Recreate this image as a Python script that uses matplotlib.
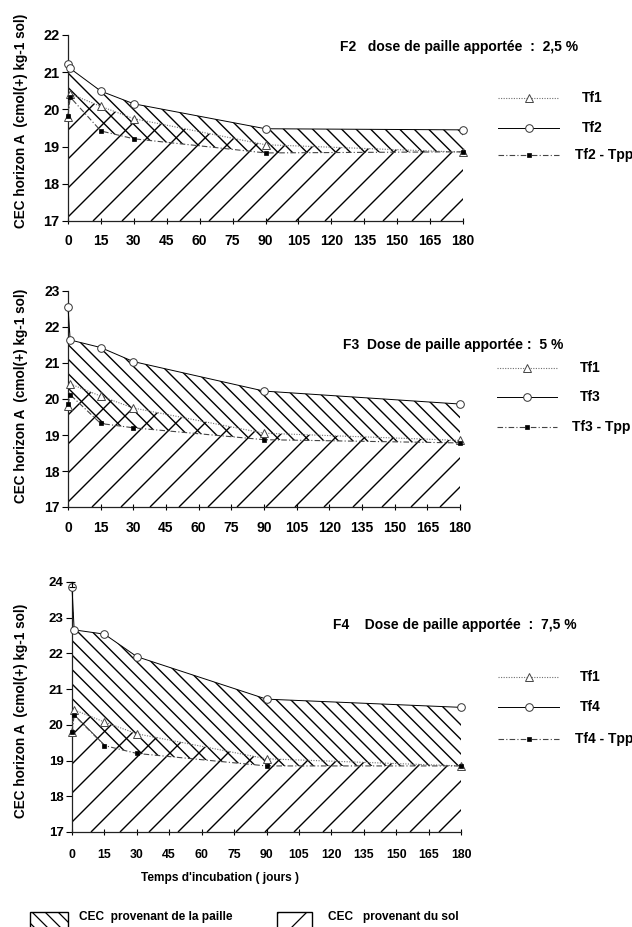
import numpy as np
import matplotlib
matplotlib.use("Agg")
import matplotlib.pyplot as plt
from matplotlib.collections import LineCollection
from matplotlib.lines import Line2D
from matplotlib.patches import Rectangle
from matplotlib.transforms import IdentityTransform

plt.rcParams["font.family"] = ["Liberation Sans", "DejaVu Sans"]
plt.rcParams["font.weight"] = "bold"

# Incubation days
days = [0, 1, 15, 30, 90, 180]
day_ticks = [0, 15, 30, 45, 60, 75, 90, 105, 120, 135, 150, 165, 180]

# Control soil (no straw)
tf1 = [19.80, 20.42, 20.08, 19.75, 19.05, 18.85]

# F2 : 2,5 % straw
tf2 = [21.22, 21.10, 20.49, 20.15, 19.48, 19.45]
tf2_tpp = [19.83, 20.33, 19.42, 19.21, 18.83, 18.86]

# F3 : 5 % straw
tf3 = [22.55, 21.64, 21.43, 21.04, 20.22, 19.86]
tf3_tpp = [19.85, 20.12, 19.32, 19.20, 18.87, 18.78]

# F4 : 7,5 % straw
tf4 = [23.85, 22.66, 22.54, 21.91, 20.72, 20.49]
tf4_tpp = [19.80, 20.27, 19.42, 19.20, 18.85, 18.85]
tf4_day0_err = 0.15

W, H = 632, 927
fig = plt.figure(figsize=(W / 100, H / 100), dpi=100)
fig.patch.set_facecolor("white")


def fx(px):
    return px / W


def fy(py):
    return 1 - py / H


def add_axes_px(left, right, top, bottom):
    return fig.add_axes([fx(left), fy(bottom), fx(right - left), (bottom - top) / H])


def hatch_lines(bb, sign, spacing, phase=0.0):
    """Diagonal segments (display pixels) covering the bbox."""
    segs = []
    w, h = bb.width, bb.height
    for c in np.arange(-h - spacing + phase, w + spacing, spacing):
        if sign > 0:
            segs.append([(bb.x0 + c, bb.y0), (bb.x0 + c + h, bb.y1)])
        else:
            segs.append([(bb.x0 + c, bb.y1), (bb.x0 + c + h, bb.y0)])
    return segs


def hatched_band(ax, x, lo, hi, sign, spacing, phase=0.0, lw=1.0):
    band = ax.fill_between(x, lo, hi, facecolor="none", edgecolor="none", lw=0)
    lc = LineCollection(hatch_lines(ax.bbox, sign, spacing, phase), colors="black",
                        linewidths=lw, transform=IdentityTransform(), zorder=1)
    ax.add_collection(lc, autolim=False)
    lc.set_clip_path(band.get_paths()[0], ax.transData)


STYLE_TF1 = dict(color="#6f6f6f", ls=(0, (1, 1.3)), lw=0.8, marker="^", ms=5.5,
                 mfc="white", mec="#444444", mew=0.7)
STYLE_TF = dict(color="black", ls="-", lw=0.7, marker="o", ms=5.5,
                mfc="white", mec="#333333", mew=0.7)
STYLE_TPP = dict(color="#444444", ls=(0, (5, 2, 1, 2)), lw=0.8, marker="s", ms=2.2,
                 mfc="black", mec="black", mew=0.5)


def panel(box, ymax, tf, tpp, name, title, title_xy, leg, ylab_y, tick_fs, ytick_fs, xpad):
    ax = add_axes_px(*box)
    ax.set_xlim(0, 180)
    ax.set_ylim(17, ymax)
    for s in ("top", "right"):
        ax.spines[s].set_visible(False)
    for s in ("left", "bottom"):
        ax.spines[s].set_linewidth(0.9)
        ax.spines[s].set_color("#222222")
    ax.set_xticks(day_ticks)
    ax.set_yticks(np.arange(17, ymax + 1))
    ax.tick_params(axis="x", direction="inout", length=5, width=0.8, pad=xpad,
                   labelsize=tick_fs)
    ax.tick_params(axis="y", direction="out", length=4, width=0.8, pad=2,
                   labelsize=ytick_fs)
    for lab in ax.get_xticklabels() + ax.get_yticklabels():
        lab.set_fontweight("bold")

    # straw contribution: between treated soil and treated soil minus straw
    hatched_band(ax, days, tpp, tf, -1, 14.5, phase=3)
    # soil contribution: below the control curve
    hatched_band(ax, days, [17] * len(days), tf1, +1, 29, phase=8)

    ax.plot(days, tf1, clip_on=False, zorder=4, **STYLE_TF1)
    ax.plot(days, tpp, clip_on=False, zorder=5, **STYLE_TPP)
    ax.plot(days, tf, clip_on=False, zorder=6, **STYLE_TF)

    fig.text(fx(title_xy[0]), fy(title_xy[1]), title, fontsize=10, fontweight="bold",
             ha="left", va="center")
    fig.text(fx(21), fy(ylab_y), "CEC horizon A  (cmol(+) kg-1 sol)", rotation=90,
             fontsize=9.8, fontweight="bold", ha="center", va="center")

    rows, (lx0, lx1), txt_x = leg
    labels = ["Tf1", name, name + " - Tpp"]
    for (ry, st, lab, tx) in zip(rows, [STYLE_TF1, STYLE_TF, STYLE_TPP], labels, txt_x):
        fig.add_artist(Line2D([fx(lx0), fx(lx1)], [fy(ry), fy(ry)],
                              transform=fig.transFigure, color=st["color"],
                              ls=st["ls"], lw=st["lw"]))
        fig.add_artist(Line2D([fx((lx0 + lx1) / 2)], [fy(ry)], transform=fig.transFigure,
                              ls="none", marker=st["marker"], ms=st["ms"], mfc=st["mfc"],
                              mec=st["mec"], mew=st["mew"]))
        fig.text(fx(tx), fy(ry), lab, fontsize=10, fontweight="bold", ha="left",
                 va="center")
    return ax


panel((68, 463, 35, 221), 22, tf2, tf2_tpp, "Tf2",
      "F2   dose de paille apportée  :  2,5 %", (340, 47),
      ([98, 128, 155], (498, 559), [582, 582, 575]), 121, 10, 10.5, 7)

panel((68, 460, 291, 507), 23, tf3, tf3_tpp, "Tf3",
      "F3  Dose de paille apportée :  5 %", (343, 345),
      ([368, 397, 427], (497, 557), [580, 580, 572]), 396, 10, 10, 7.5)

ax4 = panel((72, 461, 582, 832), 24, tf4, tf4_tpp, "Tf4",
            "F4    Dose de paille apportée  :  7,5 %", (333, 625),
            ([677, 707, 739], (498, 559), [580, 580, 575]), 711, 8.8, 9.5, 10)
ax4.errorbar([days[0]], [tf4[0]], yerr=[[0], [tf4_day0_err]], fmt="none",
             ecolor="black", elinewidth=0.8, capsize=2.5, capthick=0.8,
             clip_on=False, zorder=7)

fig.text(fx(220), fy(878), "Temps d'incubation ( jours )", fontsize=8.6,
         fontweight="bold", ha="center", va="center")

# bottom key: hatched swatches
for (x0, x1, sign, spacing, phase, label, tx) in [
        (30, 68, -1, 13, 4, "CEC  provenant de la paille", 79),
        (277, 312, +1, 28, 2, "CEC   provenant du sol", 328)]:
    rect = Rectangle((fx(x0), fy(940)), fx(x1 - x0), (940 - 912) / H,
                     transform=fig.transFigure, facecolor="none",
                     edgecolor="black", lw=1.0)
    fig.add_artist(rect)
    bb = rect.get_window_extent()
    lc = LineCollection(hatch_lines(bb, sign, spacing, phase), colors="black",
                        linewidths=0.9, transform=IdentityTransform())
    fig.add_artist(lc)
    lc.set_clip_path(rect)
    fig.text(fx(tx), fy(917), label, fontsize=8.6, fontweight="bold",
             ha="left", va="center")

fig.savefig("out.png", dpi=100)
